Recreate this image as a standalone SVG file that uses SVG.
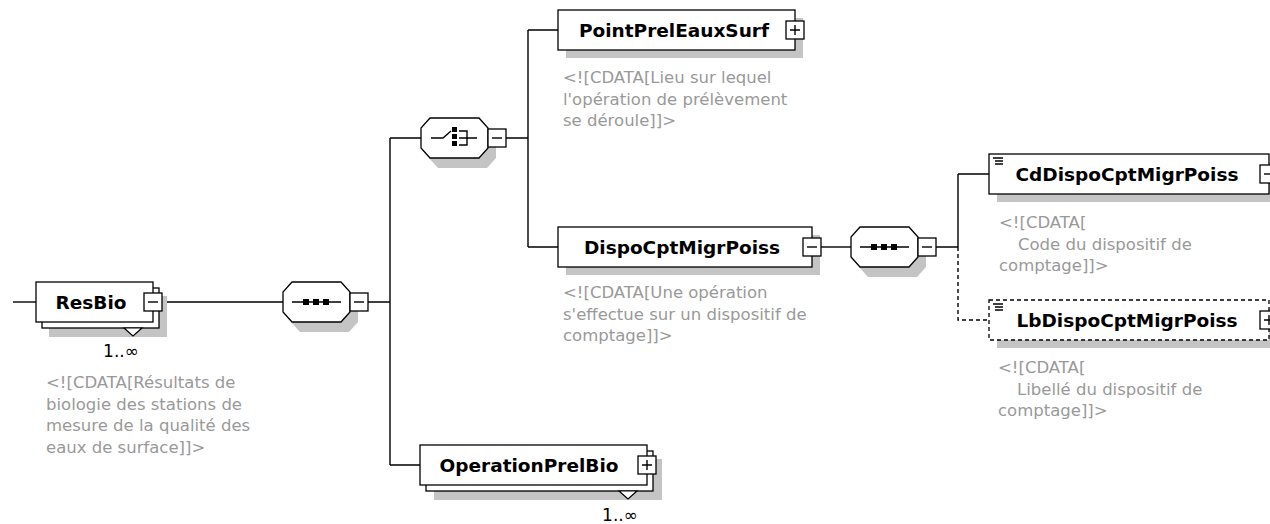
<svg xmlns="http://www.w3.org/2000/svg" width="1270" height="524" viewBox="0 0 1270 524">
<style>
.box{fill:#fff;stroke:#000;stroke-width:1.3}
.dbox{fill:#fff;stroke:#000;stroke-width:1.3;stroke-dasharray:4,3}
.sh{fill:#c4c4c4;stroke:none}
.ln{fill:none;stroke:#000;stroke-width:1.4}
.dl{fill:none;stroke:#000;stroke-width:1.4;stroke-dasharray:4,3}
.lbl{font-family:"DejaVu Sans",Verdana,sans-serif;font-weight:bold;font-size:18.5px;fill:#000;text-anchor:middle}
.desc{font-family:"DejaVu Sans",Verdana,sans-serif;font-size:16.5px;fill:#999}
.mul{font-family:"DejaVu Sans",Verdana,sans-serif;font-size:17px;fill:#000;text-anchor:middle}
.btn{fill:#fff;stroke:#000;stroke-width:1.3}
.sq{fill:#000}
</style>
<g id="connectors">
<path class="ln" d="M13,302H36"/>
<path class="ln" d="M162,302H283"/>
<path class="ln" d="M368,302H390M390,138V465M390,138H421M390,465H420"/>
<path class="ln" d="M506,138H528M528,30V247M528,30H558M528,247H558"/>
<path class="ln" d="M821,247H851"/>
<path class="ln" d="M936,247H958M958,174V247M958,174H989"/>
<path class="dl" d="M958,247V320H989"/>
</g>
<g id="ResBio">
<rect class="sh" x="49" y="296" width="118" height="41"/>
<rect class="box" x="42" y="288" width="117" height="40"/>
<rect class="box" x="36" y="282" width="117" height="40"/>
<path d="M124,328L142,328L133,336Z" fill="#fff" stroke="#000" stroke-width="1.2"/>
<text class="lbl" x="91" y="309">ResBio</text>
<rect class="btn" x="144" y="293" width="18" height="18"/>
<path class="ln" d="M148,302H158"/>
<text class="mul" x="121" y="357">1..∞</text>
<text class="desc" x="46" y="388">&lt;![CDATA[Résultats de</text>
<text class="desc" x="46" y="409.7">biologie des stations de</text>
<text class="desc" x="46" y="431.4">mesure de la qualité des</text>
<text class="desc" x="46" y="453">eaux de surface]]&gt;</text>
</g>
<g id="seq1">
<path class="sh" d="M300,292H349L358,302V322L349,332H300L291,322V302Z"/>
<path class="box" d="M292,282H341L350,292V312L341,322H292L283,312V292Z"/>
<path class="ln" d="M292,302H341"/>
<rect class="sq" x="303" y="299" width="6" height="6"/>
<rect class="sq" x="313" y="299" width="6" height="6"/>
<rect class="sq" x="323" y="299" width="6" height="6"/>
<rect class="btn" x="350" y="293" width="18" height="18"/>
<path class="ln" d="M354,302H364"/>
</g>
<g id="choice">
<path class="sh" d="M438,128H487L496,138V158L487,168H438L429,158V138Z"/>
<path class="box" d="M430,118H479L488,128V148L479,158H430L421,148V128Z"/>
<path class="ln" d="M431,138H443L451,131M459,131H467V145H459M459,138H477"/>
<rect class="sq" x="452" y="127" width="5" height="5"/>
<rect class="sq" x="452" y="134" width="5" height="5"/>
<rect class="sq" x="452" y="141" width="5" height="5"/>
<rect class="btn" x="488" y="129" width="18" height="18"/>
<path class="ln" d="M492,138H502"/>
</g>
<g id="PointPrelEauxSurf">
<rect class="sh" x="566" y="18" width="237" height="40"/>
<rect class="box" x="558" y="10" width="237" height="40"/>
<text class="lbl" x="674" y="37">PointPrelEauxSurf</text>
<rect class="btn" x="786" y="21" width="18" height="18"/>
<path class="ln" d="M790,30H800M795,25V35"/>
<text class="desc" x="563" y="83">&lt;![CDATA[Lieu sur lequel</text>
<text class="desc" x="563" y="104.7">l'opération de prélèvement</text>
<text class="desc" x="563" y="126.4">se déroule]]&gt;</text>
</g>
<g id="DispoCptMigrPoiss">
<rect class="sh" x="566" y="235" width="254" height="40"/>
<rect class="box" x="558" y="227" width="254" height="40"/>
<text class="lbl" x="682" y="254">DispoCptMigrPoiss</text>
<rect class="btn" x="803" y="238" width="18" height="18"/>
<path class="ln" d="M807,247H817"/>
<text class="desc" x="563" y="298">&lt;![CDATA[Une opération</text>
<text class="desc" x="563" y="319.7">s'effectue sur un dispositif de</text>
<text class="desc" x="563" y="341.4">comptage]]&gt;</text>
</g>
<g id="seq2">
<path class="sh" d="M868,237H917L926,247V267L917,277H868L859,267V247Z"/>
<path class="box" d="M860,227H909L918,237V257L909,267H860L851,257V237Z"/>
<path class="ln" d="M860,247H909"/>
<rect class="sq" x="871" y="244" width="6" height="6"/>
<rect class="sq" x="881" y="244" width="6" height="6"/>
<rect class="sq" x="891" y="244" width="6" height="6"/>
<rect class="btn" x="918" y="238" width="18" height="18"/>
<path class="ln" d="M922,247H932"/>
</g>
<g id="CdDispoCptMigrPoiss">
<rect class="sh" x="997" y="162" width="280" height="40"/>
<rect class="box" x="989" y="154" width="280" height="40"/>
<path class="ln" d="M993,158H1003M995,161H1003M995,164H1003" stroke-width="1.2"/>
<text class="lbl" x="1127" y="181">CdDispoCptMigrPoiss</text>
<rect class="btn" x="1260" y="165" width="18" height="18"/>
<path class="ln" d="M1264,174H1274"/>
<text class="desc" x="999" y="228">&lt;![CDATA[</text>
<text class="desc" x="1018" y="249.7">Code du dispositif de</text>
<text class="desc" x="999" y="271.4">comptage]]&gt;</text>
</g>
<g id="LbDispoCptMigrPoiss">
<rect class="sh" x="997" y="308" width="280" height="40"/>
<rect class="dbox" x="989" y="300" width="280" height="40"/>
<path class="ln" d="M993,304H1003M995,307H1003M995,310H1003" stroke-width="1.2"/>
<text class="lbl" x="1127" y="327">LbDispoCptMigrPoiss</text>
<rect class="btn" x="1260" y="311" width="18" height="18"/>
<path class="ln" d="M1264,320H1274M1269,315V325"/>
<text class="desc" x="998" y="373">&lt;![CDATA[</text>
<text class="desc" x="1017" y="394.7">Libellé du dispositif de</text>
<text class="desc" x="998" y="416.4">comptage]]&gt;</text>
</g>
<g id="OperationPrelBio">
<rect class="sh" x="434" y="459" width="228" height="41"/>
<rect class="box" x="426" y="451" width="227" height="40"/>
<rect class="box" x="420" y="445" width="227" height="40"/>
<path d="M619,491L637,491L628,499Z" fill="#fff" stroke="#000" stroke-width="1.2"/>
<text class="lbl" x="529" y="472">OperationPrelBio</text>
<rect class="btn" x="638" y="456" width="18" height="18"/>
<path class="ln" d="M642,465H652M647,460V470"/>
<text class="mul" x="620" y="521">1..∞</text>
</g>
</svg>
